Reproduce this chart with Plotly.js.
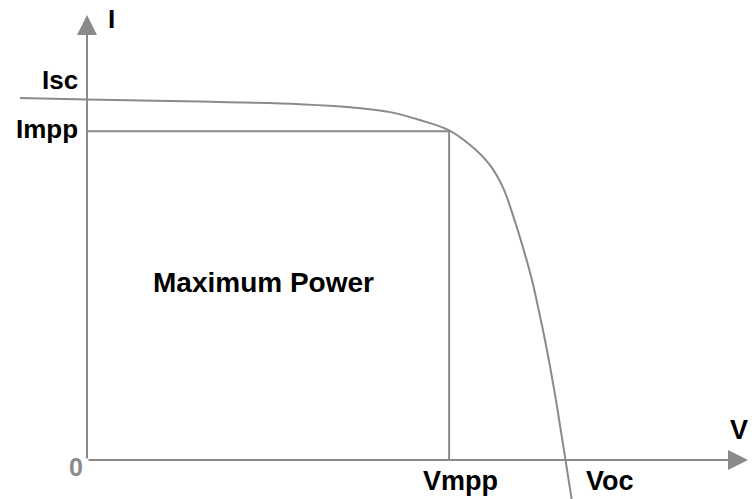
<!DOCTYPE html>
<html>
<head>
<meta charset="utf-8">
<script src="https://cdn.plot.ly/plotly-3.0.1.min.js"></script>
<style>html,body{margin:0;padding:0;background:#fff}#chart{width:756px;height:499px}</style>
</head>
<body>
<div id="chart"></div>
<script>
// Normalised I-V curve of a solar cell (V in units of Voc, I in units of Isc)
const curveV = [-0.140, 0.000, 0.236, 0.445, 0.570, 0.633, 0.695, 0.754, 0.800, 0.841, 0.869, 0.889, 0.910, 0.929, 0.943, 0.956, 0.968, 0.979, 0.989, 0.998, 1.012];
const curveI = [1.000, 0.996, 0.990, 0.983, 0.972, 0.961, 0.939, 0.912, 0.870, 0.815, 0.751, 0.677, 0.588, 0.497, 0.414, 0.332, 0.249, 0.166, 0.083, 0.008, -0.110];

const Isc = 1.0, Impp = 0.908, Vmpp = 0.756, Voc = 1.0;
const xTickLabels = ['Vmpp', 'Voc'];
const xTickValues = [Vmpp, Voc];
const yTickLabels = ['Isc', 'Impp'];
const yTickValues = [Isc, Impp];
const areaLabel = 'Maximum Power';
const xAxisName = 'V', yAxisName = 'I';

const grey = '#8a8a8a';
const xTip = 1.380, yTip = 1.229;
const xRange = [-0.18163, 1.39666], yRange = [-0.10773, 1.27072];
const fontBase = {family: 'Liberation Sans, Arial, sans-serif', size: 26, color: '#000', weight: 'bold'};

const traces = [
  {x: curveV, y: curveI, mode: 'lines', line: {color: grey, width: 2, shape: 'spline', smoothing: 1}, hoverinfo: 'skip'},
  {x: [0, Vmpp, Vmpp], y: [Impp, Impp, 0], mode: 'lines', line: {color: grey, width: 2}, hoverinfo: 'skip'}
];

const ann = [];
// axes drawn as arrows from the origin
ann.push({x: xTip, y: 0, ax: 0, ay: 0, xref: 'x', yref: 'y', axref: 'x', ayref: 'y', text: '', showarrow: true,
  arrowhead: 2, arrowsize: 2, arrowwidth: 2, arrowcolor: grey});
ann.push({x: 0, y: yTip, ax: 0, ay: 0, xref: 'x', yref: 'y', axref: 'x', ayref: 'y', text: '', showarrow: true,
  arrowhead: 2, arrowsize: 2, arrowwidth: 2, arrowcolor: grey});

// y tick labels (right-aligned left of axis)
yTickLabels.forEach((t, i) => ann.push({x: -0.0146, y: yTickValues[i] + (i === 0 ? 0.05 : 0.005), xref: 'x', yref: 'y', text: t,
  showarrow: false, xanchor: 'right', yanchor: 'middle', font: fontBase}));
// x tick labels below axis
ann.push({x: xTickValues[0] + 0.023, y: -0.058, xref: 'x', yref: 'y', text: xTickLabels[0], showarrow: false,
  xanchor: 'center', yanchor: 'middle', font: Object.assign({}, fontBase, {size: 27})});
ann.push({x: xTickValues[1] + 0.092, y: -0.058, xref: 'x', yref: 'y', text: xTickLabels[1], showarrow: false,
  xanchor: 'center', yanchor: 'middle', font: Object.assign({}, fontBase, {size: 27})});
// origin
ann.push({x: -0.023, y: -0.018, xref: 'x', yref: 'y', text: '0', showarrow: false, xanchor: 'center', yanchor: 'middle',
  font: Object.assign({}, fontBase, {color: grey, size: 25})});
// axis names
ann.push({x: 1.361, y: 0.083, xref: 'x', yref: 'y', text: xAxisName, showarrow: false, xanchor: 'center', yanchor: 'middle', font: Object.assign({}, fontBase, {size: 27})});
ann.push({x: 0.052, y: 1.218, xref: 'x', yref: 'y', text: yAxisName, showarrow: false, xanchor: 'center', yanchor: 'middle', font: fontBase});
// area label
ann.push({x: 0.3695, y: 0.489, xref: 'x', yref: 'y', text: areaLabel, showarrow: false, xanchor: 'center', yanchor: 'middle',
  font: Object.assign({}, fontBase, {size: 28})});

const layout = {
  width: 756, height: 499,
  margin: {l: 0, r: 0, t: 0, b: 0},
  paper_bgcolor: '#fff', plot_bgcolor: '#fff',
  showlegend: false,
  xaxis: {range: xRange, visible: false, fixedrange: true},
  yaxis: {range: yRange, visible: false, fixedrange: true},
  annotations: ann
};

Plotly.newPlot('chart', traces, layout, {staticPlot: true, displayModeBar: false});
</script>
</body>
</html>
